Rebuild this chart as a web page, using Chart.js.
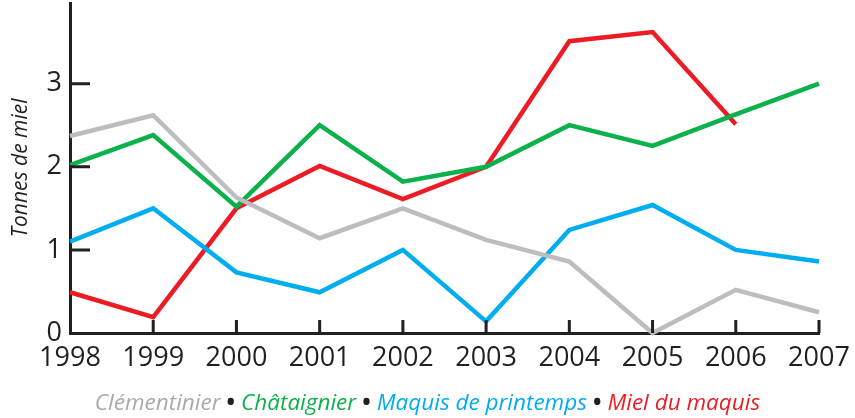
<!DOCTYPE html>
<html>
<head>
<meta charset="utf-8">
<script src="https://cdn.jsdelivr.net/npm/chart.js@4/dist/chart.umd.min.js"></script>
<style>
  html, body { margin: 0; padding: 0; background: #fff; }
  #wrap { position: relative; width: 855px; height: 418px; }
  #legend {
    position: absolute; left: 0; width: 855px; top: 386px;
    text-align: center; font-family: "Open Sans", sans-serif;
    font-style: italic; font-size: 22.5px; white-space: nowrap;
  }
  #legend .sep { color: #231f20; font-style: normal; font-weight: bold; margin: 0 6px; }
</style>
</head>
<body>
<div id="wrap">
  <canvas id="myChart" width="855" height="418"></canvas>
  <div id="legend"></div>
</div>
<script>
var years = ['1998','1999','2000','2001','2002','2003','2004','2005','2006','2007'];
var clementinier = [2.37, 2.62, 1.63, 1.14, 1.50, 1.12, 0.86, 0.00, 0.52, 0.25];
var chataignier = [2.02, 2.38, 1.52, 2.50, 1.82, 2.00, 2.50, 2.25, 2.63, 3.00];
var maquisPrintemps = [1.10, 1.50, 0.73, 0.49, 1.00, 0.14, 1.24, 1.54, 1.00, 0.86];
var mielMaquis = [0.49, 0.19, 1.50, 2.01, 1.61, 2.00, 3.51, 3.62, 2.51, null];
var seriesNames = ['Clémentinier', 'Châtaignier', 'Maquis de printemps', 'Miel du maquis'];
var seriesColors = ['#bcbdc0', '#0db14b', '#00aeef', '#ed1c24'];
var yTicks = [1, 2, 3];

var axisColor = '#231f20';
var font = '"Open Sans", sans-serif';

// little inward tick marks like the printed figure
var innerTicks = {
  id: 'innerTicks',
  afterDatasetsDraw: function(chart) {
    var ctx = chart.ctx, x = chart.scales.x, y = chart.scales.y;
    ctx.save();
    ctx.strokeStyle = axisColor;
    ctx.lineWidth = 3;
    ctx.beginPath();
    yTicks.forEach(function(v) {
      var py = y.getPixelForValue(v);
      ctx.moveTo(x.left, py);
      ctx.lineTo(x.left + 20, py);
    });
    for (var i = 1; i < years.length; i++) {
      var px = x.getPixelForValue(i);
      ctx.moveTo(px, y.bottom);
      ctx.lineTo(px, y.bottom - 13);
    }
    ctx.stroke();
    ctx.restore();
  }
};

var allData = [clementinier, chataignier, maquisPrintemps, mielMaquis];
var datasets = allData.map(function(d, i) {
  return {
    label: seriesNames[i],
    data: d,
    borderColor: seriesColors[i],
    backgroundColor: seriesColors[i],
    borderWidth: 4.5,
    pointRadius: 0,
    tension: 0,
    clip: false
  };
});

var myChart = new Chart(document.getElementById('myChart'), {
  type: 'line',
  data: { labels: years, datasets: datasets },
  plugins: [innerTicks],
  options: {
    responsive: false,
    animation: false,
    layout: { padding: { top: 3, right: 36, bottom: 40, left: 0 } },
    plugins: { legend: { display: false }, tooltip: { enabled: false } },
    scales: {
      x: {
        offset: false,
        grid: { display: false, drawTicks: false },
        border: { display: true, color: axisColor, width: 3 },
        ticks: { color: axisColor, padding: 9, maxRotation: 0, autoSkip: false,
                 font: { family: font, size: 27 } },
        afterFit: function(s) {
          s.height = 45;
          s.paddingLeft = 0;
          s.paddingRight = 0;
        }
      },
      y: {
        min: 0, max: 3.97,
        grid: { display: false, drawTicks: false },
        border: { display: true, color: axisColor, width: 3 },
        ticks: { stepSize: 1, includeBounds: false, color: axisColor, padding: 8,
                 font: { family: font, size: 27 } },
        title: { display: true, text: 'Tonnes de miel', color: axisColor,
                 padding: { top: 8, bottom: 0 },
                 font: { family: font, size: 21, style: 'italic' } },
        afterFit: function(s) {
          s.width = 70;
          s.paddingTop = 0;
          s.paddingBottom = 0;
        }
      }
    }
  }
});

var legend = document.getElementById('legend');
seriesNames.forEach(function(n, i) {
  if (i > 0) {
    var sep = document.createElement('span');
    sep.className = 'sep';
    sep.textContent = '•';
    legend.appendChild(sep);
  }
  var s = document.createElement('span');
  s.style.color = i == 0 ? '#a7a9ac' : seriesColors[i];
  s.textContent = n;
  legend.appendChild(s);
});
</script>
</body>
</html>
